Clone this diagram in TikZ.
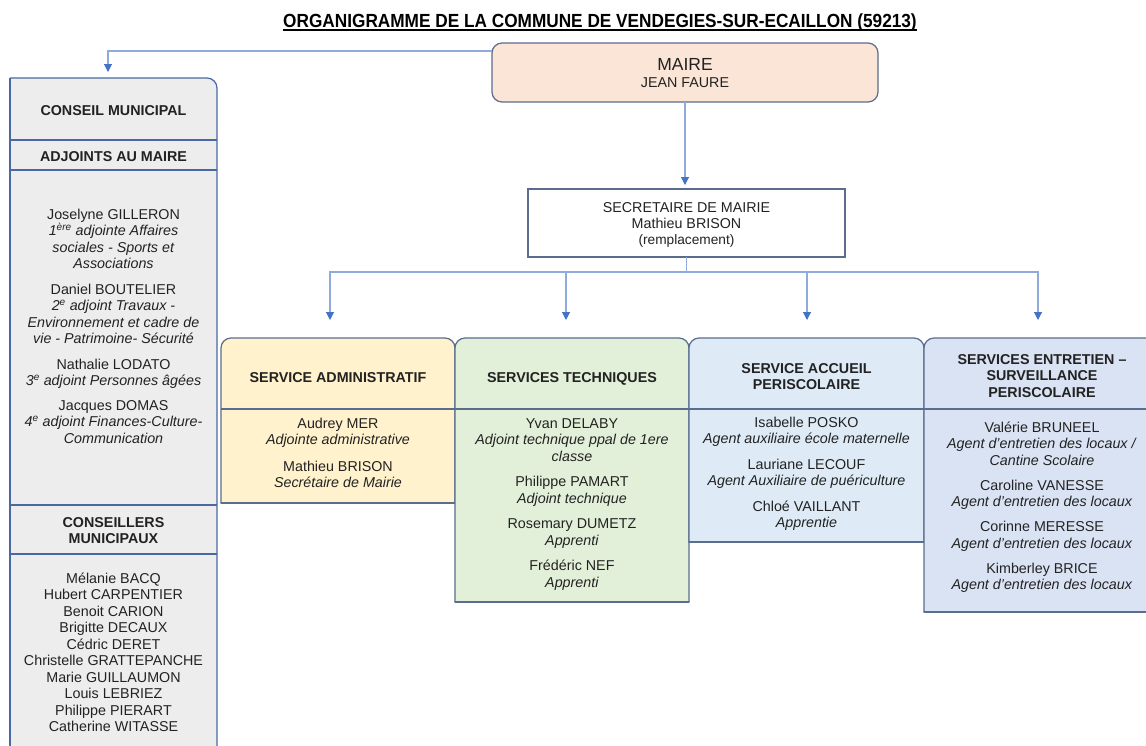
\documentclass[tikz,border=0pt]{standalone}
\usepackage{fontspec}
\usepackage{graphicx}
\setmainfont{Liberation Sans}
\usetikzlibrary{arrows.meta}
\definecolor{linec}{HTML}{8FAADC}
\definecolor{arrc}{HTML}{4472C4}
\definecolor{bordc}{HTML}{5A6D8F}
\definecolor{cmbord}{HTML}{4A69A3}
\definecolor{maifill}{HTML}{FBE5D6}
\definecolor{admfill}{HTML}{FFF2CC}
\definecolor{tecfill}{HTML}{E2F0D9}
\definecolor{accfill}{HTML}{DEEBF7}
\definecolor{entfill}{HTML}{DAE3F3}
\definecolor{cmfill}{HTML}{EDEDED}
\definecolor{txtc}{HTML}{222222}
\newcommand{\bodyf}{\fontsize{14.3}{16.5}\selectfont}
\newcommand{\headf}{\fontsize{14.3}{16.5}\selectfont\bfseries}
\newcommand{\fst}{\rule{0pt}{12pt}}
\begin{document}
\begin{tikzpicture}[x=1pt,y=-1pt,
  box/.style={draw=none, fill=none, inner sep=0pt, outer sep=0pt},
  conn/.style={draw=linec, line width=1.1pt},
  arr/.style={-{Triangle[width=8pt,length=8pt,color=arrc]}},
  txt/.style={inner sep=0pt, outer sep=0pt, align=center, text=txtc, font=\bodyf},
  hdr/.style={txt, font=\headf},
  bline/.style={draw=bordc, line width=1.2pt},
  cline/.style={draw=cmbord, line width=1.2pt},
]
\useasboundingbox (0,0) rectangle (1146,745);
\clip (0,0) rectangle (1146,745);
\fill[white] (0,0) rectangle (1146,745);

% title
\node[anchor=base, inner sep=0pt, text=black] (title) at (600,27)
  {\fontsize{19}{22}\selectfont\bfseries\scalebox{0.9066}[1]{ORGANIGRAMME DE LA COMMUNE DE VENDEGIES-SUR-ECAILLON (59213)}};
\draw[line width=1.3pt] ([yshift=-3pt]title.base west) -- ([yshift=-3pt]title.base east);

% box frames (named)
\node[box, minimum width=386, minimum height=59] (maire) at (685,72.5) {};
\node[box, minimum width=317, minimum height=68] (sec) at (686.5,223) {};
\node[box, minimum width=207, minimum height=682] (cm) at (113.5,419) {};
\node[box, minimum width=234, minimum height=165] (adm) at (338,420.5) {};
\node[box, minimum width=234, minimum height=264] (tec) at (572,470) {};
\node[box, minimum width=235, minimum height=204] (acc) at (806.5,440) {};
\node[box, minimum width=236, minimum height=274] (ent) at (1042,475) {};

% maire
\draw[draw=bordc, fill=maifill, line width=1.2pt, rounded corners=10pt] (maire.south west) rectangle (maire.north east);
\node[txt, anchor=north, font=\fontsize{14.3}{17}\selectfont] (mairet) at (685,56.7)
  {\rule{0pt}{14pt}{\fontsize{17.5}{17}\selectfont MAIRE}\\JEAN FAURE};

% secretaire
\draw[draw=bordc, fill=white, line width=1.2pt] (sec.south west) rectangle (sec.north east);
\node[txt, anchor=north, font=\fontsize{14.3}{16}\selectfont] (sect) at (686.5,200.7)
  {\fst SECRETAIRE DE MAIRIE\\Mathieu BRISON\\{\fontsize{13.7}{16}\selectfont (remplacement)}};

% left column
\fill[cmfill, rounded corners=10pt] (cm.north west) rectangle (cm.south east);
\fill[cmfill] (cm.north west) rectangle ([xshift=20pt,yshift=-20pt]cm.north west);
\draw[cline, rounded corners=10pt] (cm.north west) -- (cm.north east) -- (cm.south east);
\draw[cline] (cm.north west) -- (cm.south west);
\draw[cline] (cm.west |- 0,140) -- (cm.east |- 0,140);
\draw[cline] (cm.west |- 0,170) -- (cm.east |- 0,170);
\draw[cline] (cm.west |- 0,505) -- (cm.east |- 0,505);
\draw[cline] (cm.west |- 0,554) -- (cm.east |- 0,554);

\node[hdr, anchor=base] (cmh) at (113.5,115) {CONSEIL MUNICIPAL};
\node[hdr, anchor=base] (adjh) at (113.5,161) {ADJOINTS AU MAIRE};
\node[txt, anchor=north] (adjb) at (113.5,207) {\fst Joselyne GILLERON\\
  \textit{1\textsuperscript{ère} adjointe Affaires}\\
  \textit{sociales - Sports et}\\
  \textit{Associations}\\[9pt]
  Daniel BOUTELIER\\
  \textit{2\textsuperscript{e} adjoint Travaux -}\\
  \textit{Environnement et cadre de}\\
  \textit{vie - Patrimoine- Sécurité}\\[9pt]
  Nathalie LODATO\\
  \textit{3\textsuperscript{e} adjoint Personnes âgées}\\[8pt]
  Jacques DOMAS\\
  \textit{4\textsuperscript{e} adjoint Finances-Culture-}\\
  \textit{Communication}};
\node[hdr, anchor=north] (conh) at (113.5,515) {\fst CONSEILLERS\\MUNICIPAUX};
\node[txt, anchor=north] (conb) at (113.5,571) {\fst Mélanie BACQ\\Hubert CARPENTIER\\Benoit CARION\\Brigitte DECAUX\\Cédric DERET\\Christelle GRATTEPANCHE\\Marie GUILLAUMON\\Louis LEBRIEZ\\Philippe PIERART\\Catherine WITASSE};

% services boxes
\path[bline, fill=admfill, rounded corners=10pt] (adm.south west) -- (adm.north west) -- (adm.north east) -- (adm.south east);
\draw[bline, line cap=round] (adm.south west) -- (adm.south east);
\draw[bline] (adm.west |- 0,409) -- (adm.east |- 0,409);

\path[bline, fill=tecfill, rounded corners=10pt] (tec.south west) -- (tec.north west) -- (tec.north east) -- (tec.south east);
\draw[bline, line cap=round] (tec.south west) -- (tec.south east);
\draw[bline] (tec.west |- 0,409) -- (tec.east |- 0,409);

\path[bline, fill=accfill, rounded corners=10pt] (acc.south west) -- (acc.north west) -- (acc.north east) -- (acc.south east);
\draw[bline, line cap=round] (acc.south west) -- (acc.south east);
\draw[bline] (acc.west |- 0,409) -- (acc.east |- 0,409);

\path[bline, fill=entfill, rounded corners=10pt] (ent.south west) -- (ent.north west) -- (ent.north east) -- (ent.south east);
\draw[bline, line cap=round] (ent.south west) -- (ent.south east);
\draw[bline] (ent.west |- 0,409) -- (ent.east |- 0,409);

% service texts
\node[hdr, anchor=base] (admh) at (338,382) {SERVICE ADMINISTRATIF};
\node[hdr, anchor=base] (tech) at (572,382) {SERVICES TECHNIQUES};
\node[hdr, anchor=north] (acch) at (806.5,361) {\fst SERVICE ACCUEIL\\PERISCOLAIRE};
\node[hdr, anchor=north] (enth) at (1042,352.3) {\fst SERVICES ENTRETIEN –\\SURVEILLANCE\\PERISCOLAIRE};

\node[txt, anchor=north] (admb) at (338,416) {\fst Audrey MER\\\textit{Adjointe administrative}\\[10pt]
  Mathieu BRISON\\\textit{Secrétaire de Mairie}};
\node[txt, anchor=north] (tecb) at (572,416) {\fst Yvan DELABY\\\textit{Adjoint technique ppal de 1ere}\\\textit{classe}\\[9pt]
  Philippe PAMART\\\textit{Adjoint technique}\\[9pt]
  Rosemary DUMETZ\\\textit{Apprenti}\\[9pt]
  Frédéric NEF\\\textit{Apprenti}};
\node[txt, anchor=north] (accb) at (806.5,415) {\fst Isabelle POSKO\\\textit{Agent auxiliaire école maternelle}\\[9pt]
  Lauriane LECOUF\\\textit{Agent Auxiliaire de puériculture}\\[9pt]
  Chloé VAILLANT\\\textit{Apprentie}};
\node[txt, anchor=north] (entb) at (1042,420) {\fst Valérie BRUNEEL\\\textit{Agent d’entretien des locaux /}\\\textit{Cantine Scolaire}\\[8.5pt]
  Caroline VANESSE\\\textit{Agent d’entretien des locaux}\\[8.5pt]
  Corinne MERESSE\\\textit{Agent d’entretien des locaux}\\[8.5pt]
  Kimberley BRICE\\\textit{Agent d’entretien des locaux}};

% connectors
\coordinate (t0) at (108,72);
\coordinate (j) at (sec.south |- 0,272);
\coordinate (t1) at (330,320);
\coordinate (t2) at (566,320);
\coordinate (t3) at (807,320);
\coordinate (t4) at (1038,320);
\draw[conn, arr] ([yshift=-8pt]maire.north west) -| (t0);
\draw[conn, arr, shorten >=4pt] (maire.south) -- (maire.south |- sec.north);
\draw[conn] (sec.south) -- (j);
\draw[conn, arr] (j) -| (t1);
\draw[conn, arr] (j) -| (t2);
\draw[conn, arr] (j) -| (t3);
\draw[conn, arr] (j) -| (t4);
\end{tikzpicture}
\end{document}
